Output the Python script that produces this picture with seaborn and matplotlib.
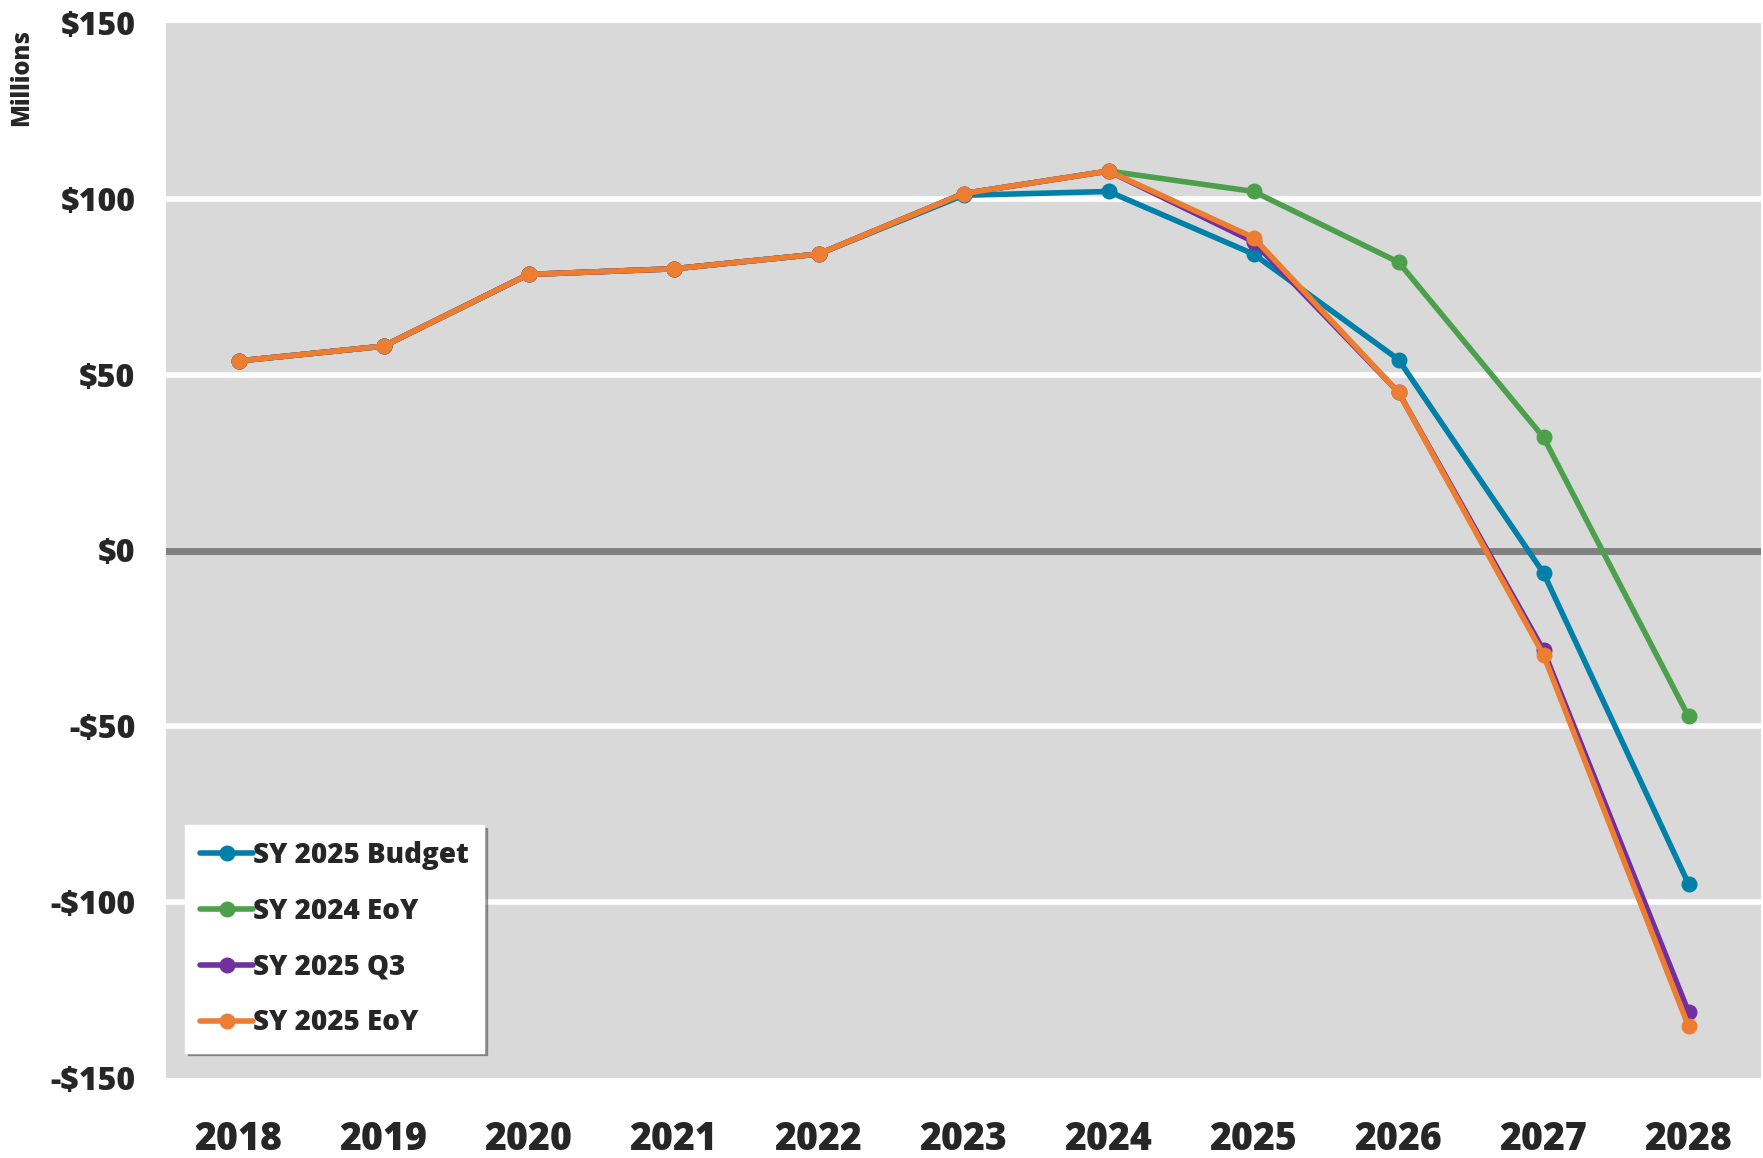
import pandas as pd
import seaborn as sns
import matplotlib.pyplot as plt
from matplotlib.ticker import FuncFormatter

# Fund balance projections, in millions
years = [2018, 2019, 2020, 2021, 2022, 2023, 2024, 2025, 2026, 2027, 2028]
sy2025_budget = [53.9, 58.1, 78.5, 80.1, 84.3, 101.0, 102.1, 84.3, 54.3, -6.4, -94.8]
sy2024_eoy = [53.9, 58.1, 78.5, 80.1, 84.3, 101.5, 107.9, 102.1, 82.0, 32.2, -47.2]
sy2025_q3 = [53.9, 58.1, 78.5, 80.1, 84.3, 101.5, 107.9, 87.8, 45.0, -28.4, -131.2]
sy2025_eoy = [53.9, 58.1, 78.5, 80.1, 84.3, 101.5, 107.9, 89.0, 45.0, -29.7, -135.3]

series_names = ['SY 2025 Budget', 'SY 2024 EoY', 'SY 2025 Q3', 'SY 2025 EoY']
series_colors = ['#007fa8', '#4ca04c', '#7030a0', '#ed7d31']
y_ticks = [-150, -100, -50, 0, 50, 100, 150]

# Long format table for seaborn
frames = []
for name, vals in zip(series_names, [sy2025_budget, sy2024_eoy, sy2025_q3, sy2025_eoy]):
    frames.append(pd.DataFrame({'Year': years, 'Value': vals, 'Series': name}))
df = pd.concat(frames, ignore_index=True)

sns.set_style('white')
plt.rcParams['font.family'] = ['Open Sans', 'DejaVu Sans']
plt.rcParams['font.weight'] = 'bold'

fig = plt.figure(figsize=(17.63, 11.58), dpi=100)
ax = fig.add_axes([166 / 1763, 1 - 1078 / 1158, (1761 - 166) / 1763, (1078 - 23) / 1158])
ax.set_facecolor('#d9d9d9')

# gridlines
for t in y_ticks:
    if t == 0:
        ax.axhline(t, color='#808080', lw=5, zorder=1)
    elif abs(t) < 150:
        ax.axhline(t, color='white', lw=4, zorder=1)

sns.lineplot(data=df, x='Year', y='Value', hue='Series', hue_order=series_names,
             palette=series_colors, marker='o', markersize=11.5, markeredgewidth=0,
             linewidth=4, sort=False, ax=ax, zorder=3)

ax.set_xlim(2017.5, 2028.5)
ax.set_ylim(-150, 150)
ax.set_xticks(years)
ax.set_xticklabels([str(y) for y in years], fontsize=27, fontweight='heavy')
ax.set_yticks(y_ticks)
ax.yaxis.set_major_formatter(FuncFormatter(lambda v, p: f'-${abs(v):.0f}' if v < 0 else f'${v:.0f}'))
for lbl in ax.get_yticklabels():
    lbl.set_fontsize(23)
    lbl.set_fontweight('heavy')
ax.tick_params(axis='both', length=0)
ax.tick_params(axis='x', pad=30)
ax.tick_params(axis='y', pad=22)
for s in ax.spines.values():
    s.set_visible(False)
ax.set_xlabel('')
ax.set_ylabel('')

fig.text(22 / 1763, 1 - 77 / 1158, 'Millions', rotation=90, ha='center', va='center',
         fontsize=17, fontweight='heavy')

leg = ax.legend(loc='lower left', bbox_to_anchor=(0.012, 0.024), fontsize=20,
                frameon=True, fancybox=False, shadow=True, borderpad=0.55,
                labelspacing=0.97, handlelength=1.9, handletextpad=0.0, borderaxespad=0)
leg.get_frame().set_edgecolor('white')
leg.get_frame().set_facecolor('white')
leg.get_frame().set_alpha(1)
for t in leg.get_texts():
    t.set_fontweight('heavy')

plt.savefig('out.png', dpi=100)
